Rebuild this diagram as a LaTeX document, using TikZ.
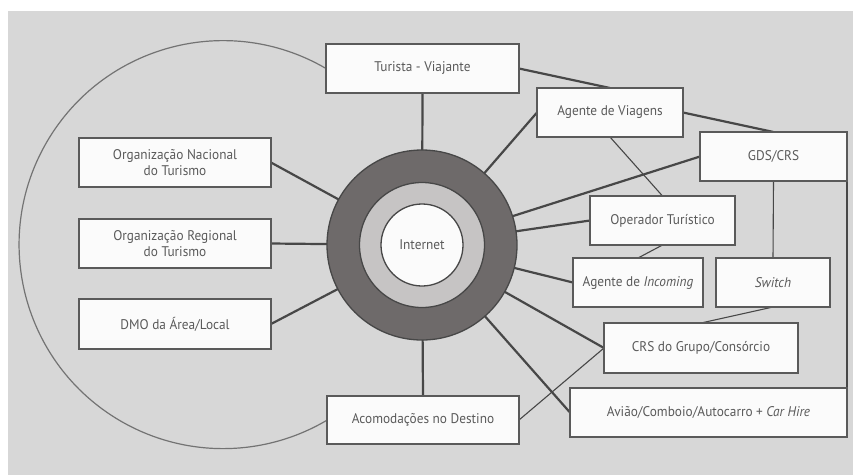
\documentclass[tikz,border=0pt]{standalone}
\usepackage{fontspec}
\setmainfont{PT Sans}[FakeStretch=0.95]
\usetikzlibrary{backgrounds}
\definecolor{paper}{HTML}{D7D7D7}
\definecolor{ink}{HTML}{5A5A5A}
\definecolor{wire}{HTML}{474747}
\definecolor{ringdark}{HTML}{6E6A6A}
\definecolor{ringlight}{HTML}{C6C4C4}
\definecolor{boxfill}{HTML}{FBFBFB}
\pgfdeclarelayer{paperlayer}
\pgfdeclarelayer{wires}
\pgfsetlayers{paperlayer,wires,main}
\tikzset{
  actor/.style={draw=ink, line width=1.3pt, fill=boxfill, rectangle,
    inner sep=0pt, outer sep=0pt, minimum height=49, text=ink,
    font=\fontsize{14}{16}\selectfont, align=center},
  strong/.style={draw=wire, line width=2.2pt},
  weak/.style={draw=wire, line width=1.1pt},
  disc/.style={circle, draw=wire, line width=1.3pt, inner sep=0pt, outer sep=0pt},
}
\begin{document}
\begin{tikzpicture}[x=1pt, y=-1pt]
\useasboundingbox (0,0) rectangle (853,475);
\begin{pgfonlayer}{paperlayer}
  \fill[white] (0,0) rectangle (853,475);
  \fill[paper] (8,11) rectangle (853,475);
\end{pgfonlayer}

% central rings
\node[disc, fill=ringdark, minimum size=190] (outer) at (422,245) {};
\node[disc, fill=ringlight, minimum size=125] (inner) at (422,245) {};
\node[disc, fill=boxfill, minimum size=82, text=ink,
      font=\fontsize{14}{16}\selectfont] (net) at (422,245) {Internet};

% boxes
\node[actor, minimum width=193] (tur)  at (422.5,68.5) {Turista - Viajante};
\node[actor, minimum width=146] (agv)  at (610,112.5) {Agente de Viagens};
\node[actor, minimum width=147] (gds)  at (773.5,156.5) {GDS/CRS};
\node[actor, minimum width=145] (ope)  at (662.5,220.5) {Operador Turístico};
\node[actor, minimum width=130] (inc)  at (638,282.5) {Agente de \textit{Incoming}};
\node[actor, minimum width=114] (swi)  at (773,282.5) {\textit{Switch}};
\node[actor, minimum width=194, minimum height=50] (crs) at (701,348) {CRS do Grupo/Consórcio};
\node[actor, minimum width=277] (avi)  at (708.5,412.5) {Avião/Comboio/Autocarro + \textit{Car Hire}};
\node[actor, minimum width=192, minimum height=48] (aco) at (423,420) {Acomodações no Destino};
\node[actor, minimum width=192] (onac) at (175,162.5) {Organização Nacional\\do Turismo};
\node[actor, minimum width=192] (oreg) at (175,243.5) {Organização Regional\\do Turismo};
\node[actor, minimum width=192, minimum height=50] (dmo) at (175,324) {DMO da Área/Local};

\begin{pgfonlayer}{wires}
  % spokes from the hub
  \foreach \t in {tur.south, agv.west, gds.west, ope.west, inc.west,
                  crs.west, avi.west, aco.north, onac.east, oreg.east, dmo.east}
    \draw[strong] (net.center) -- (\t);
  % links between actors
  \draw[strong] (tur.east) -- (agv.north);
  \draw[strong] (agv.east) -- (gds.north);
  \draw[weak] (agv.south) -- (ope.north);
  \draw[weak] (ope.south) -- (inc.north);
  \draw[weak] (gds.south) -- (swi.north);
  \draw[weak] (swi.south) -- (crs.north);
  \draw[weak] (aco.east) -- (crs.west);
  \draw[weak] (gds.south east) -- (avi.north east);
  % outer arc enclosing the destination side
  \draw[draw=ink!85, line width=1.2pt] (tur.west) arc[start angle=-59.7, end angle=-300.5, radius=204];
\end{pgfonlayer}
\end{tikzpicture}
\end{document}
